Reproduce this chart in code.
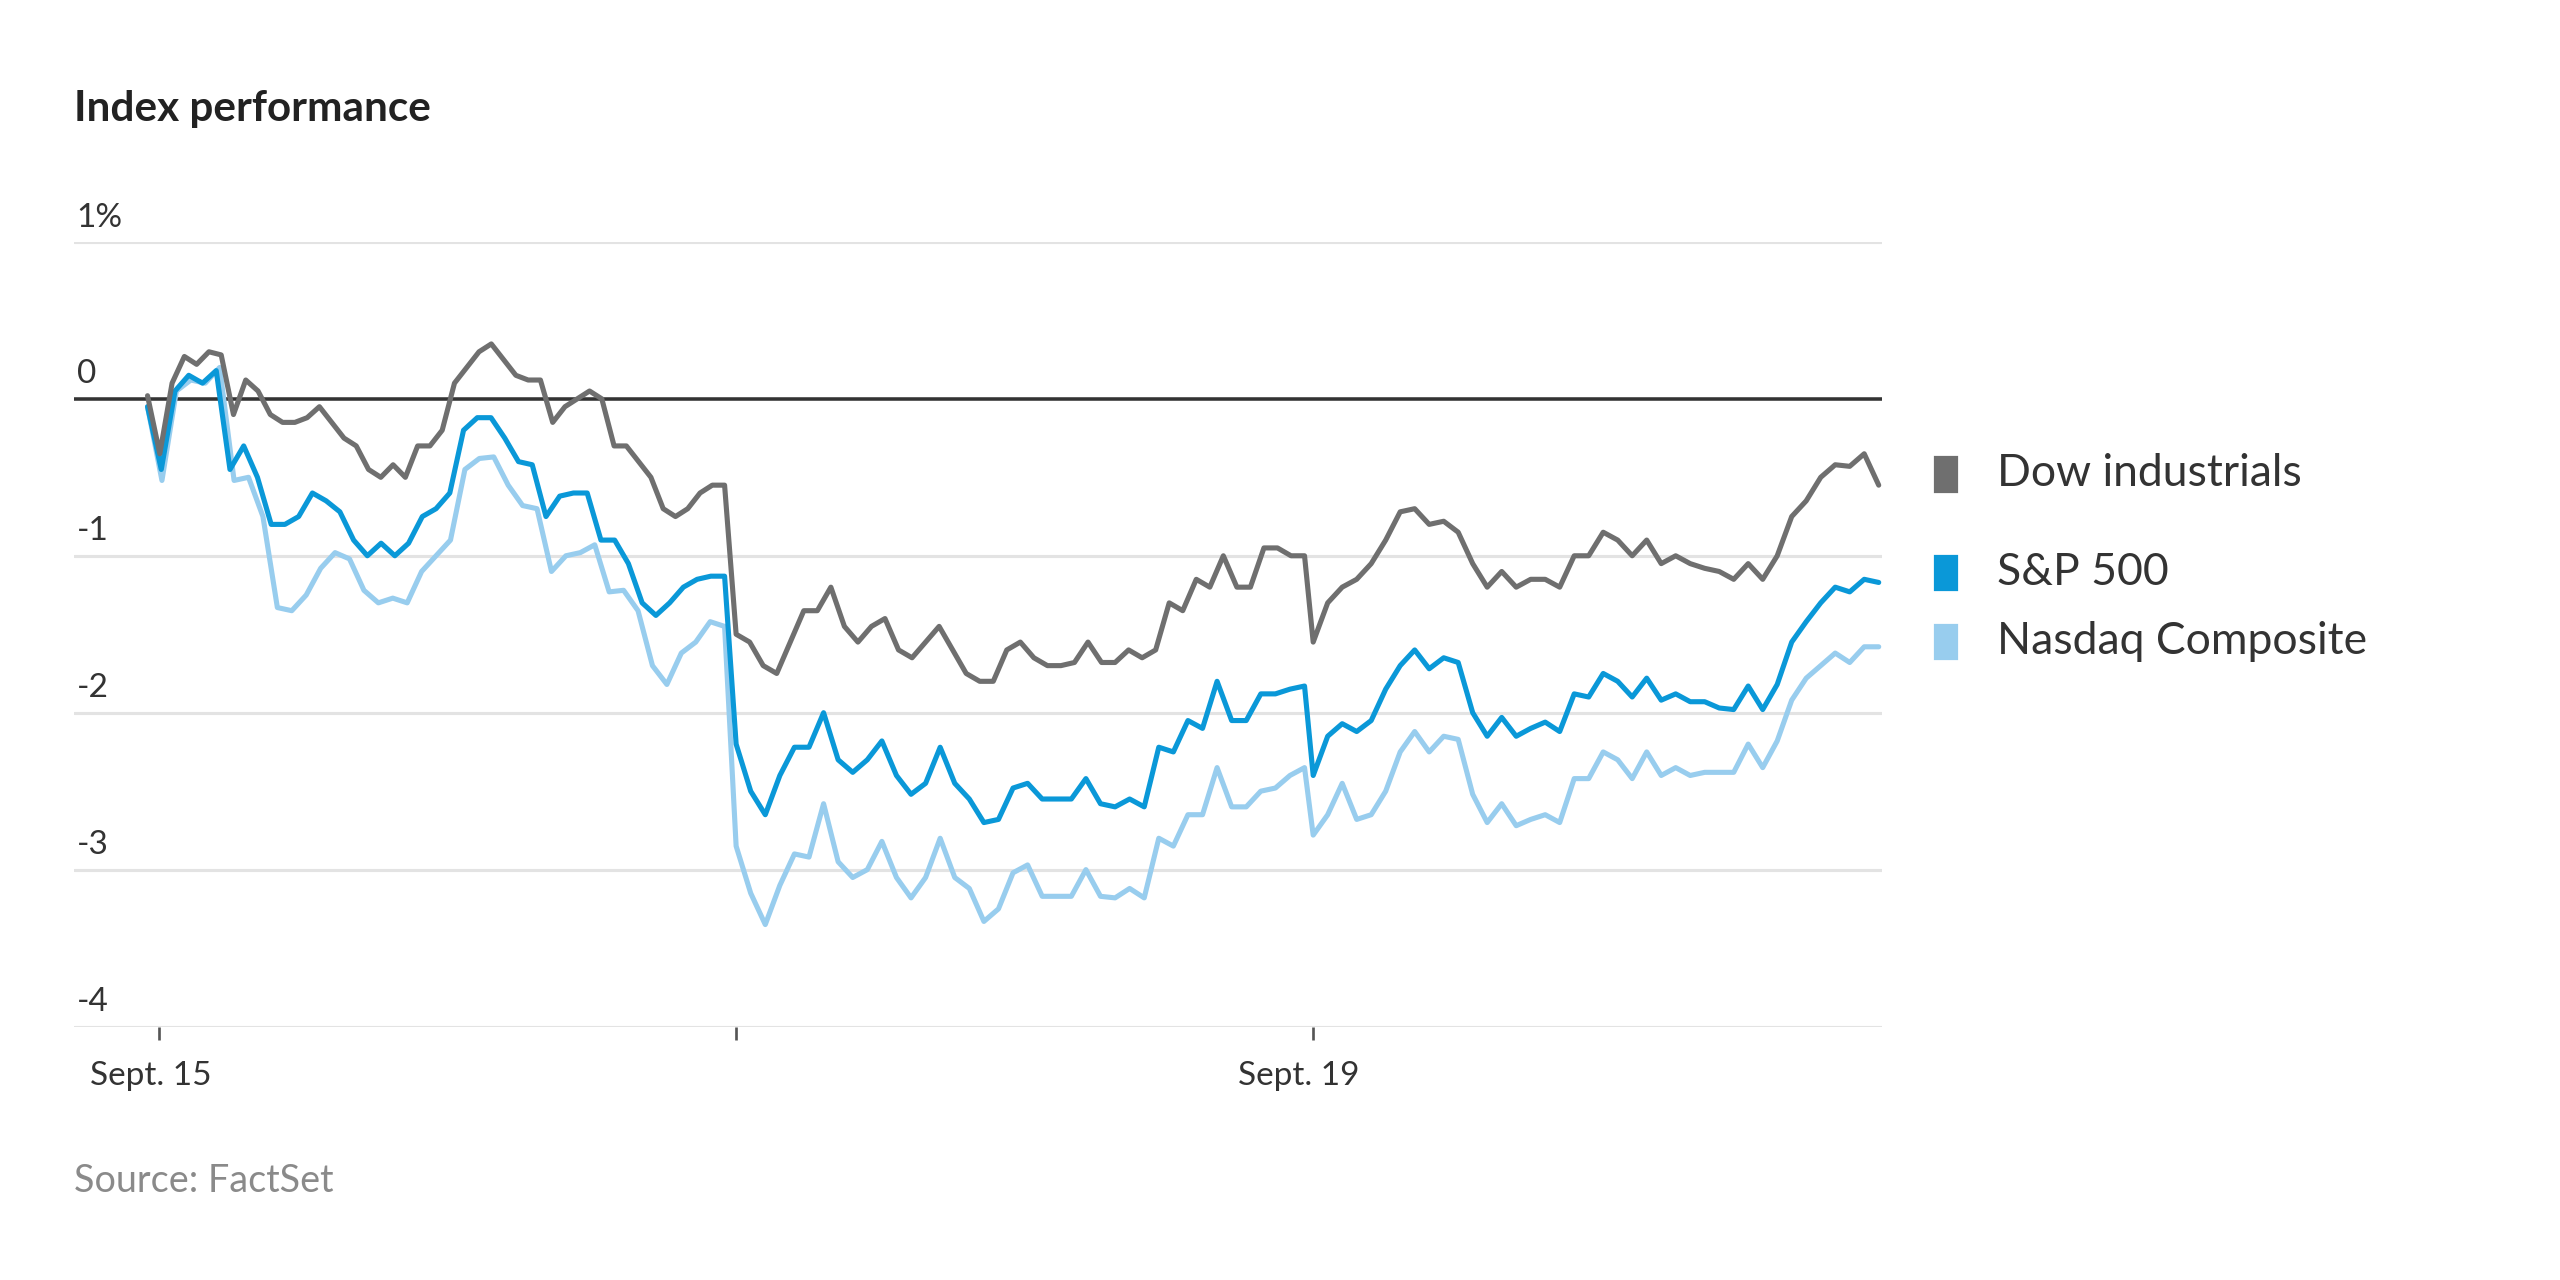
import numpy as np, pandas as pd, seaborn as sns, matplotlib
matplotlib.use("Agg")
import matplotlib.pyplot as plt

dow_d1 = [0.02,-0.35,0.1,0.27,0.22,0.3,0.28,-0.1,0.12,0.05,-0.1,-0.15,-0.15,-0.12,-0.05,-0.15,-0.25,-0.3,-0.45,-0.5,-0.42,-0.5,-0.3,-0.3,-0.2,0.1,0.2,0.3,0.35,0.25,0.15,0.12,0.12,-0.15,-0.05,0.0,0.05,0.0,-0.3,-0.3,-0.4,-0.5,-0.7,-0.75,-0.7,-0.6,-0.55,-0.55]
dow_d2 = [-1.5,-1.55,-1.7,-1.75,-1.55,-1.35,-1.35,-1.2,-1.45,-1.55,-1.45,-1.4,-1.6,-1.65,-1.55,-1.45,-1.6,-1.75,-1.8,-1.8,-1.6,-1.55,-1.65,-1.7,-1.7,-1.68,-1.55,-1.68,-1.68,-1.6,-1.65,-1.6,-1.3,-1.35,-1.15,-1.2,-1.0,-1.2,-1.2,-0.95,-0.95,-1.0,-1.0]
dow_d3 = [-1.55,-1.3,-1.2,-1.15,-1.05,-0.9,-0.72,-0.7,-0.8,-0.78,-0.85,-1.05,-1.2,-1.1,-1.2,-1.15,-1.15,-1.2,-1.0,-1.0,-0.85,-0.9,-1.0,-0.9,-1.05,-1.0,-1.05,-1.08,-1.1,-1.15,-1.05,-1.15,-1.0,-0.75,-0.65,-0.5,-0.42,-0.43,-0.35,-0.55]
sp_d1 = [-0.05,-0.45,0.05,0.15,0.1,0.18,-0.45,-0.3,-0.5,-0.8,-0.8,-0.75,-0.6,-0.65,-0.72,-0.9,-1.0,-0.92,-1.0,-0.92,-0.75,-0.7,-0.6,-0.2,-0.12,-0.12,-0.25,-0.4,-0.42,-0.75,-0.62,-0.6,-0.6,-0.9,-0.9,-1.05,-1.3,-1.38,-1.3,-1.2,-1.15,-1.13,-1.13]
sp_d2 = [-2.2,-2.5,-2.65,-2.4,-2.22,-2.22,-2.0,-2.3,-2.38,-2.3,-2.18,-2.4,-2.52,-2.45,-2.22,-2.45,-2.55,-2.7,-2.68,-2.48,-2.45,-2.55,-2.55,-2.55,-2.42,-2.58,-2.6,-2.55,-2.6,-2.22,-2.25,-2.05,-2.1,-1.8,-2.05,-2.05,-1.88,-1.88,-1.85,-1.83]
sp_d3 = [-2.4,-2.15,-2.07,-2.12,-2.05,-1.85,-1.7,-1.6,-1.72,-1.65,-1.68,-2.0,-2.15,-2.03,-2.15,-2.1,-2.06,-2.12,-1.88,-1.9,-1.75,-1.8,-1.9,-1.78,-1.92,-1.88,-1.93,-1.93,-1.97,-1.98,-1.83,-1.98,-1.82,-1.55,-1.42,-1.3,-1.2,-1.23,-1.15,-1.17]
nq_d1 = [-0.05,-0.52,0.05,0.12,0.1,0.2,-0.52,-0.5,-0.75,-1.33,-1.35,-1.25,-1.08,-0.98,-1.02,-1.22,-1.3,-1.27,-1.3,-1.1,-1.0,-0.9,-0.45,-0.38,-0.37,-0.55,-0.68,-0.7,-1.1,-1.0,-0.98,-0.93,-1.23,-1.22,-1.35,-1.7,-1.82,-1.62,-1.55,-1.42,-1.45]
nq_d2 = [-2.85,-3.15,-3.35,-3.1,-2.9,-2.92,-2.58,-2.95,-3.05,-3.0,-2.82,-3.05,-3.18,-3.05,-2.8,-3.05,-3.12,-3.33,-3.25,-3.02,-2.97,-3.17,-3.17,-3.17,-3.0,-3.17,-3.18,-3.12,-3.18,-2.8,-2.85,-2.65,-2.65,-2.35,-2.6,-2.6,-2.5,-2.48,-2.4,-2.35]
nq_d3 = [-2.78,-2.65,-2.45,-2.68,-2.65,-2.5,-2.25,-2.12,-2.25,-2.15,-2.17,-2.52,-2.7,-2.58,-2.72,-2.68,-2.65,-2.7,-2.42,-2.42,-2.25,-2.3,-2.42,-2.25,-2.4,-2.35,-2.4,-2.38,-2.38,-2.38,-2.2,-2.35,-2.18,-1.92,-1.78,-1.7,-1.62,-1.68,-1.58,-1.58]

series_names = ["Dow industrials", "S&P 500", "Nasdaq Composite"]
colors = ["#6f6f6f", "#0a98d8", "#98cdee"]
day_spans = [(-0.02, 0.98), (1.0, 1.985), (2.0, 2.98)]
yticks = [1, 0, -1, -2, -3, -4]
yticklabels = ["1%", "0", "-1", "-2", "-3", "-4"]

rows = []
for name, days in zip(series_names, [(dow_d1, dow_d2, dow_d3), (sp_d1, sp_d2, sp_d3), (nq_d1, nq_d2, nq_d3)]):
    for (a, b), vals in zip(day_spans, days):
        for t, v in zip(np.linspace(a, b, len(vals)), vals):
            rows.append((name, t, v))
df = pd.DataFrame(rows, columns=["series", "t", "value"])

sns.set_theme(style="white")
plt.rcParams['font.family'] = ['Lato', 'DejaVu Sans']
fig = plt.figure(figsize=(16, 8), dpi=160)
ax = fig.add_axes([0.029, 0.198, 0.706, 0.613])
for y in yticks:
    ax.axhline(y, color="#333333" if y == 0 else "#e3e3e3", lw=1.6 if y == 0 else 1.4, zorder=1)
for name, c in zip(series_names[::-1], colors[::-1]):
    sns.lineplot(data=df[df.series == name], x="t", y="value", color=c, lw=2.3, ax=ax, zorder=3)
ax.set_xlim(-0.147, 2.985)
ax.set_ylim(-4, 1)
for s in ax.spines.values():
    s.set_visible(False)
ax.set_yticks([]); ax.set_xticks([0, 1, 2]); ax.set_xticklabels(["", "", ""])
ax.tick_params(axis="x", length=6, width=1.2, color="#555555", direction="out", bottom=True)
ax.set_xlabel(""); ax.set_ylabel("")
for y, lab in zip(yticks, yticklabels):
    ax.text(-0.143, y + 0.06, lab, fontsize=15, color="#333333", va="bottom", ha="left")
ax.text(-0.12, -4.22, "Sept. 15", fontsize=15, color="#333333", va="top", ha="left")
ax.text(1.87, -4.22, "Sept. 19", fontsize=15, color="#333333", va="top", ha="left")
fig.text(0.029, 0.915, "Index performance", fontsize=19, fontweight="bold", color="#222222", va="center")
fig.text(0.029, 0.077, "Source: FactSet", fontsize=17, color="#8a8a8a", va="center")
for (y, name, c) in zip([0.63, 0.553, 0.499], series_names, colors):
    fig.patches.append(plt.Rectangle((0.756, y - 0.014), 0.0085, 0.027, color=c, transform=fig.transFigure))
    fig.text(0.78, y, name, fontsize=20, color="#333333", va="center")
fig.savefig("out.png", dpi=160)
